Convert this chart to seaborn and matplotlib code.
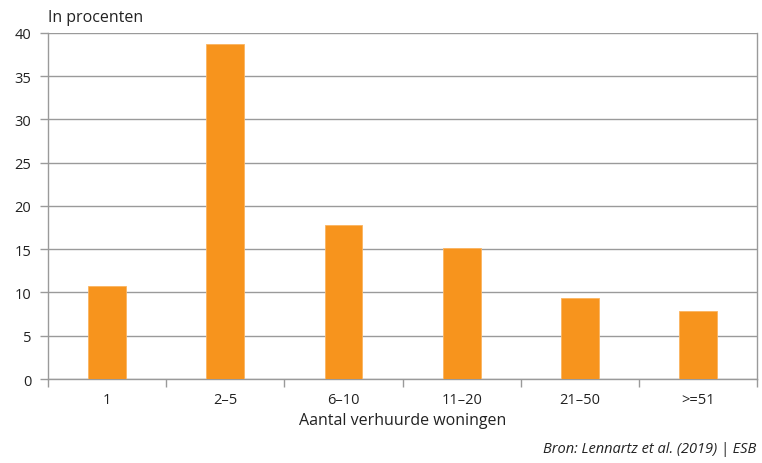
import matplotlib
matplotlib.use("Agg")
import matplotlib.pyplot as plt
import numpy as np
import pandas as pd
import seaborn as sns

# data
categories = ["1", "2\u20135", "6\u201310", "11\u201320", "21\u201350", ">=51"]
shares = [10.7, 38.7, 17.8, 15.1, 9.4, 7.9]
y_ticks = [0, 5, 10, 15, 20, 25, 30, 35, 40]

ORANGE = "#F7941D"
GRID = "#9a9a9a"
TEXT = "#222222"

sns.set_theme(style="white")
plt.rcParams["font.family"] = ["Open Sans", "DejaVu Sans"]

df = pd.DataFrame({"cat": categories, "pct": shares})

fig = plt.figure(figsize=(7.62, 4.64), dpi=100)
ax = fig.add_axes([0.063, 0.181, 0.9305, 0.746])

sns.barplot(data=df, x="cat", y="pct", color=ORANGE, width=0.32,
            saturation=1, edgecolor="#FBB460", linewidth=0.6, ax=ax, zorder=3)

ax.set_ylim(0, 40)
ax.set_xlim(-0.5, len(categories) - 0.5)
ax.set_yticks(y_ticks)
ax.set_yticklabels([str(v) for v in y_ticks], fontsize=10.5, color=TEXT)
ax.yaxis.grid(True, color=GRID, linewidth=1.0, zorder=0)
ax.set_axisbelow(True)

# major ticks for labels, minor ticks at the category boundaries
ax.set_xticks(range(len(categories)))
ax.set_xticklabels(categories, fontsize=10.5, color=TEXT)
ax.set_xticks(np.arange(-0.5, len(categories)), minor=True)
ax.tick_params(axis="x", which="major", length=0, pad=9)
ax.tick_params(axis="x", which="minor", length=6, width=1, color=GRID, bottom=True)
ax.tick_params(axis="y", which="major", length=6, width=1, color=GRID, left=True, pad=6)

for side in ["left", "right", "bottom", "top"]:
    ax.spines[side].set_color(GRID)
    ax.spines[side].set_linewidth(1.0)
ax.spines["top"].set_visible(False)

ax.set_xlabel("Aantal verhuurde woningen", fontsize=11.5, color=TEXT, labelpad=4)
ax.set_ylabel("")

fig.text(0.063, 0.962, "In procenten", fontsize=11.5, color=TEXT, ha="left", va="center")
fig.text(0.993, 0.032, "Bron: Lennartz et al. (2019) | ESB", fontsize=10.5,
         color=TEXT, ha="right", va="center", style="italic")

fig.savefig("out.png", dpi=100)
